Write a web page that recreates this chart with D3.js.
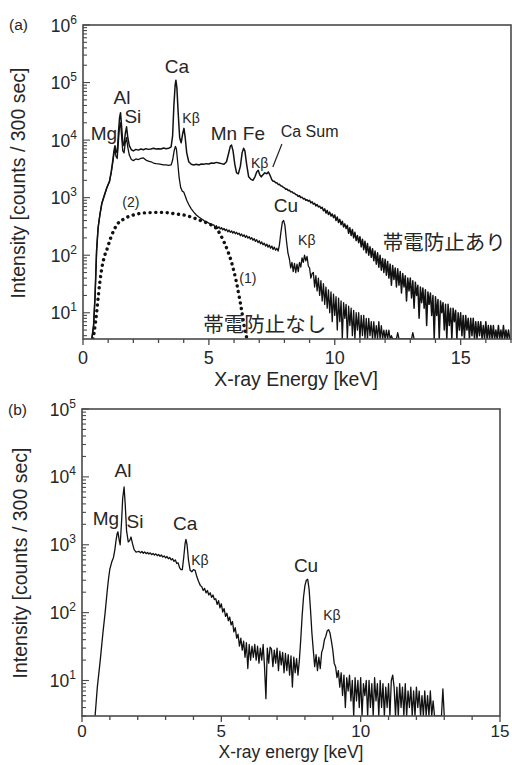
<!DOCTYPE html>
<html><head><meta charset="utf-8">
<script src="https://cdn.jsdelivr.net/npm/d3@7"></script>
<style>
body{margin:0;background:#fff;}
svg text{font-family:"Liberation Sans",Arial,Helvetica,sans-serif;fill:#262626;}
svg text.jp{font-family:"Noto Sans CJK JP","Noto Sans CJK SC",sans-serif;}
</style></head><body>
<svg id="c" width="512" height="765"></svg>
<script>
// ---------------- DATA ----------------
// Panel (a): spectrum WITH antistatic treatment (帯電防止あり) [energy keV, counts]
const onPeaks = [[0.35,3.3],[0.42,6],[0.48,20],[0.54,120],[0.6,300],[0.67,500],[0.75,800],[0.85,1100],[0.95,1500],[1.05,1900],[1.12,2800],[1.18,4300],[1.23,6500],[1.27,8000],[1.31,6500],[1.36,6000],[1.41,14000],[1.45,24000],[1.49,30000],[1.53,18000],[1.58,9000],[1.63,8000],[1.68,13000],[1.73,17000],[1.78,11000],[1.84,8000],[1.92,6800],[2.0,6500],[2.1,6900],[2.2,6700],[2.3,7000],[2.4,6800],[2.5,7100],[2.6,6900],[2.7,7000],[2.8,7200],[2.9,7000],[3.0,7100],[3.1,7000],[3.2,7300],[3.3,7100],[3.4,7200],[3.5,7600],[3.56,12000],[3.61,40000],[3.66,90000],[3.69,110000],[3.73,80000],[3.78,30000],[3.84,11000],[3.9,9000],[3.96,13000],[4.01,16000],[4.06,11000],[4.12,6000],[4.2,4200],[4.3,3800],[4.4,3700],[4.5,3800],[4.6,3700],[4.7,3850],[4.8,3800],[4.9,3900],[5.0,3850],[5.1,4000],[5.2,3950],[5.3,4100],[5.4,4000],[5.5,3900],[5.6,3800],[5.7,4200],[5.78,5800],[5.85,7800],[5.9,8200],[5.96,6500],[6.03,3800],[6.1,2700],[6.17,2600],[6.25,3500],[6.32,6000],[6.38,7200],[6.43,6500],[6.5,3800],[6.58,2300],[6.66,2100],[6.75,2000],[6.83,2300],[6.9,2800],[6.96,3000],[7.02,2500],[7.08,2300],[7.15,2500],[7.22,2700],[7.3,2600],[7.36,2800],[7.42,2500]];
const onTailStart = 7.5, onTailStep = 0.05;
const onTail = [2050,1930,1920,1820,1810,1700,1710,1610,1590,1520,
  1480,1400,1410,1330,1340,1260,1270,1200,1190,1130,
  1120,1050,1080,1000,1020,950,970,900,920,870,
  900,810,850,770,800,720,760,690,710,650,
  680,590,640,540,600,510,560,480,520,450,
  500,400,460,370,420,340,390,310,350,290,
  330,240,300,220,280,200,250,180,220,165,
  210,140,190,125,175,110,160,100,140,92,
  130,80,118,70,110,62,100,55,88,50,
  85,45,78,40,70,30,66,38,60,28,
  58,30,52,22,48,28,44,16,40,24,
  40,18,36,12,34,20,30,8,28,15,
  27,12,25,6,23,14,22,9,20,3,
  19,9,17,3,16,10,15,5,14,2,
  14,6,12,2,12,7,11,3,10,5,
  10,4,9,2,9,5,8,2,8,4,
  8,3,7,2,7,4,7,2,6,3,
  7,3,6,2,6,3,6,2,5,3,
  6,2,5,3,6,2,5,2,5,3];

// Panel (a): spectrum WITHOUT antistatic treatment (帯電防止なし)
const offPeaks = [[0.35,3.3],[0.42,6],[0.48,20],[0.54,120],[0.6,300],[0.67,500],[0.75,800],[0.85,1100],[0.95,1500],[1.05,1900],[1.12,2700],[1.18,4000],[1.23,5800],[1.27,7000],[1.31,5200],[1.36,4800],[1.41,10000],[1.45,17000],[1.49,20000],[1.53,12000],[1.58,6500],[1.63,6000],[1.68,9000],[1.73,11000],[1.78,7500],[1.84,5500],[1.92,4600],[2.0,4400],[2.1,4700],[2.2,4600],[2.3,4800],[2.4,4900],[2.5,4500],[2.6,4300],[2.7,4200],[2.8,4000],[2.9,3900],[3.0,3850],[3.1,3800],[3.2,3700],[3.3,3700],[3.4,3650],[3.5,3700],[3.56,4500],[3.62,6500],[3.67,7800],[3.71,7000],[3.76,4200],[3.82,2200],[3.88,1500],[3.94,1300],[4.0,1250],[4.05,1100],[4.12,900],[4.2,760],[4.3,640],[4.4,560],[4.5,500],[4.6,460],[4.7,430],[4.8,400],[4.9,380],[5.0,360],[5.1,340]];
const offMidStart = 5.2, offMidStep = 0.05;
const offMid = [335,305,325,292,312,285,302,275,292,268,
  282,255,274,250,265,242,258,236,250,230,
  242,218,234,212,226,204,218,198,210,190,
  202,182,194,174,186,166,178,158,170,152,
  162,144,156,138,150,132,144,126,138,122,
  132,118];
const offCu = [[7.8,150],[7.86,250],[7.92,380],[7.97,400],[8.02,330],[8.08,180],[8.14,110],[8.2,85],[8.25,60],[8.3,75],[8.35,52],[8.4,72],[8.45,50],[8.5,70],[8.55,52],[8.6,75],[8.65,62],[8.7,90],[8.75,75],[8.8,100],[8.85,80],[8.9,95],[8.95,65],[9.0,60],[9.05,40],[9.1,48]];
const offTailStart = 9.15, offTailStep = 0.05;
const offTail = [50,28,44,24,40,20,36,16,32,14,
  28,12,25,10,23,7,21,9,19,5,
  18,7,16,3,15,8,14,2,13,6,
  12,4,11,2,10,5,10,2,9,4,
  9,3,8,2,8,4,7,2,7,3,
  6,2,7,3,6,2,5,2,5,2,
  5,2,4,2];
const offSpikes = [[12.45,2],[12.5,4.5],[12.55,2],[13.05,2],[13.1,4.5],[13.15,2]];

// Panel (a): model curve (dotted, (1)/(2))
const modelCurve = [[0.4,3.3],[0.5,7],[0.55,11],[0.62,22],[0.67,34],[0.75,60],[0.85,95],[0.95,126],[1.1,200],[1.35,340],[1.6,420],[2.0,500],[2.3,535],[2.66,550],[3.0,555],[3.3,550],[3.7,520],[4.0,500],[4.3,460],[4.6,410],[5.0,350],[5.3,290],[5.6,170],[5.9,75],[6.1,33],[6.3,11],[6.45,4.5],[6.52,3.3]];

// Panel (b) spectrum
const bPeaks = [[0.47,3.0],[0.55,8],[0.65,19],[0.75,50],[0.83,100],[0.9,200],[0.95,310],[1.0,440],[1.07,560],[1.13,650],[1.18,850],[1.22,1150],[1.26,1450],[1.29,1550],[1.33,1200],[1.37,1000],[1.42,2200],[1.46,4800],[1.51,7100],[1.55,4000],[1.6,1600],[1.66,1100],[1.71,1150],[1.76,1300],[1.81,1050],[1.87,850],[1.94,780],[2.0,790]];
const bPlateauStart = 2.05, bPlateauStep = 0.05;
const bPlateau = [800,760,795,750,785,740,770,730,760,715,
  745,705,735,690,720,675,705,660,685,640,
  670,622,650,598,622,570,595,530,540,460,430];
const bCa = [[3.6,430],[3.65,650],[3.7,1050],[3.73,1200],[3.77,1000],[3.82,600],[3.88,420],[3.94,400],[4.0,430],[4.06,420],[4.12,340],[4.18,290],[4.25,250]];
const bMidStart = 4.3, bMidStep = 0.05;
const bMid = [240,212,228,196,212,182,196,168,182,156,
  160,132,150,118,135,102,115,88,98,76,
  86,66,74,52,60,42,48,32,42,28,
  38,22,36,15,34,20,32,22,34,20,
  32,18,30,20,34,16,5.4,30,18,31,
  29,16,28,18,30,14,27,17,26,13,
  25,14,24,12,23,8,22,13,21,12];
const bCu = [[7.8,20],[7.85,40],[7.9,90],[7.95,170],[8.0,250],[8.05,300],[8.1,310],[8.15,220],[8.2,110],[8.25,50],[8.3,28],[8.35,16],[8.4,24],[8.45,14],[8.5,22],[8.55,15],[8.6,26],[8.65,30],[8.7,40],[8.75,45],[8.8,54],[8.85,56],[8.9,50],[8.95,38],[9.0,28],[9.05,18],[9.1,16],[9.15,11],[9.2,14],[9.25,8]];
const bTailStart = 9.3, bTailStep = 0.05;
const bTail = [13,6,12,4,11,7,12,5,10,3,
  11,5,10,4,11,3,9,6,10,3,
  10,4,9,3,11,5,9,2,10,4,
  9,3,8,4,9,3,10,12,8,3,
  8,2,9,4,8,3,9,2,7,4,
  8,3,7,2,8,4,7,2,6,3,
  7,2,6,3,7,2,5,2];
const bSpikes = [[12.7,2],[12.9,2],[12.95,7.5],[13.0,2]];

// Axis tick labels
const xTicksA = [0,5,10,15];
const xTicksB = [0,5,10,15];
const yExpA = [1,2,3,4,5,6];
const yExpB = [1,2,3,4,5];

// Annotations [text, energy, counts]
const labelsA = [["Ca",3.73,1.47e5],["Al",1.55,4.2e4],["Si",1.98,1.98e4],["Mg",0.83,1.0e4],["Mn",5.6,1.0e4],["Fe",6.79,1.0e4],["Cu",8.06,564]];
const kbetaA = [[4.29,1.98e4],[7.02,3270],[8.89,150]];
const labelsB = [["Al",1.47,1.0e4],["Mg",0.86,1960],["Si",1.9,1770],["Ca",3.7,1650],["Cu",8.04,398]];
const kbetaB = [[4.23,500],[8.97,78]];

// ---------------- HELPERS ----------------
const seg = (start, step, vals) => vals.map((v,i)=>[start + i*step, v]);
const svg = d3.select("#c");
const AX = "#4a4a4a";

function panel(cfg){
  const x = d3.scaleLinear().domain(cfg.xd).range([cfg.left, cfg.right]);
  const y = d3.scaleLog().domain(cfg.yd).range([cfg.bottom, cfg.top]);
  const g = svg.append("g");
  const id = "clip" + cfg.name;
  svg.append("clipPath").attr("id", id).append("rect")
    .attr("x", cfg.left).attr("y", cfg.top).attr("width", cfg.right-cfg.left).attr("height", cfg.bottom-cfg.top);
  const ymin = cfg.yd[0];
  const plot = g.append("g").attr("clip-path", `url(#${id})`);
  cfg.series.forEach(s => {
    const gen = d3.line().x(d=>x(d[0])).y(d=>y(Math.max(d[1], ymin)));
    if (s.curve) gen.curve(s.curve);
    plot.append("path")
      .attr("d", gen(s.data))
      .attr("fill","none").attr("stroke","#111")
      .attr("stroke-width", s.width || 1.3)
      .attr("stroke-linejoin","round")
      .attr("stroke-linecap", s.dash ? "round" : "butt")
      .attr("stroke-dasharray", s.dash || null);
  });
  // frame
  g.append("rect").attr("x",cfg.left).attr("y",cfg.top)
    .attr("width",cfg.right-cfg.left).attr("height",cfg.bottom-cfg.top)
    .attr("fill","none").attr("stroke",AX).attr("stroke-width",1.6);
  // x ticks
  for (let e = 0; e <= cfg.xd[1] + 1e-9; e += 1) {
    const major = (e % 5 === 0);
    g.append("line").attr("x1",x(e)).attr("x2",x(e))
      .attr("y1",cfg.bottom).attr("y2",cfg.bottom + (major?6:4))
      .attr("stroke",AX).attr("stroke-width",1.3);
  }
  cfg.xt.forEach(t => {
    g.append("text").attr("x",x(t)).attr("y",cfg.bottom+cfg.xtDy)
      .attr("text-anchor","middle").attr("font-size",cfg.xtSize).text(t);
  });
  // y ticks
  const lo = Math.floor(Math.log10(cfg.yd[0])), hi = Math.ceil(Math.log10(cfg.yd[1]));
  for (let p = lo; p <= hi; p++) {
    for (let k = 1; k <= 9; k++) {
      const v = k * Math.pow(10,p);
      if (v < cfg.yd[0]*0.999 || v > cfg.yd[1]*1.001) continue;
      g.append("line").attr("x1",cfg.left).attr("x2",cfg.left + (k===1?7:4))
        .attr("y1",y(v)).attr("y2",y(v)).attr("stroke",AX).attr("stroke-width",1.1);
    }
  }
  cfg.ye.forEach(p => {
    const t = g.append("text").attr("x",cfg.left-6).attr("y",y(Math.pow(10,p))+6.5)
      .attr("text-anchor","end").attr("font-size",17.5);
    t.append("tspan").text("10");
    t.append("tspan").attr("dy",-8).attr("font-size",12).text(p);
  });
  // titles
  g.append("text").attr("x",cfg.xTitle[0]).attr("y",cfg.xTitle[1]).attr("text-anchor","middle")
    .attr("font-size",cfg.xTitleSize).text(cfg.xTitleText);
  g.append("text").attr("transform",`translate(${cfg.yTitle[0]},${cfg.yTitle[1]}) rotate(-90)`)
    .attr("text-anchor","middle").attr("font-size",19.5).text("Intensity [counts / 300 sec]");
  g.append("text").attr("x",cfg.tag[0]).attr("y",cfg.tag[1]).attr("font-size",15.5).text(cfg.tagText);
  // annotations
  cfg.labels.forEach(([t,e,v]) => g.append("text").attr("x",x(e)).attr("y",y(v))
    .attr("text-anchor","middle").attr("font-size",19).text(t));
  cfg.kb.forEach(([e,v]) => g.append("text").attr("x",x(e)).attr("y",y(v))
    .attr("text-anchor","middle").attr("font-size",14).text("Kβ"));
  return {x, y, g};
}

// ---------------- PANEL (a) ----------------
const onSeries = onPeaks.concat(seg(onTailStart, onTailStep, onTail));
const offSeries = offPeaks.concat(seg(offMidStart, offMidStep, offMid), offCu, seg(offTailStart, offTailStep, offTail), offSpikes);
const A = panel({
  name:"a", xd:[0,17], yd:[3.5,1e6], left:83, right:511, top:25, bottom:339,
  series:[{data:offSeries, width:1.3},{data:onSeries, width:1.5},
          {data:modelCurve, width:3.4, dash:"0.1,5.6", curve:d3.curveMonotoneX}],
  xt:xTicksA, xtDy:25, xtSize:18, ye:yExpA,
  xTitle:[296,386], xTitleSize:19.5, xTitleText:"X-ray Energy [keV]", yTitle:[25,183],
  tag:[9,30], tagText:"(a)", labels:labelsA, kb:kbetaA
});
A.g.append("text").attr("x",A.x(9.0)).attr("y",A.y(11300)).attr("text-anchor","middle")
  .attr("font-size",16).text("Ca Sum");
A.g.append("line").attr("x1",A.x(7.9)).attr("y1",A.y(8550)).attr("x2",A.x(7.54)).attr("y2",A.y(3410))
  .attr("stroke","#222").attr("stroke-width",1.2);
A.g.append("text").attr("x",A.x(6.55)).attr("y",A.y(32.9)).attr("text-anchor","middle").attr("font-size",14).text("(1)");
A.g.append("text").attr("x",A.x(1.9)).attr("y",A.y(689)).attr("text-anchor","middle").attr("font-size",14).text("(2)");
A.g.append("text").attr("class","jp").attr("x",A.x(14.35)).attr("y",A.y(123)).attr("text-anchor","middle").attr("font-size",20.5).text("帯電防止あり");
A.g.append("text").attr("class","jp").attr("x",A.x(7.22)).attr("y",A.y(4.6)).attr("text-anchor","middle").attr("font-size",20.5).text("帯電防止なし");

// ---------------- PANEL (b) ----------------
const bSeries = bPeaks.concat(seg(bPlateauStart,bPlateauStep,bPlateau), bCa, seg(bMidStart,bMidStep,bMid), bCu, seg(bTailStart,bTailStep,bTail), bSpikes);
panel({
  name:"b", xd:[0,15], yd:[3,1e5], left:82, right:500, top:409, bottom:716,
  series:[{data:bSeries, width:1.3}],
  xt:xTicksB, xtDy:21, xtSize:17, ye:yExpB,
  xTitle:[291,758], xTitleSize:17.5, xTitleText:"X-ray energy [keV]", yTitle:[27,563],
  tag:[8,415], tagText:"(b)", labels:labelsB, kb:kbetaB
});
</script>
</body></html>
